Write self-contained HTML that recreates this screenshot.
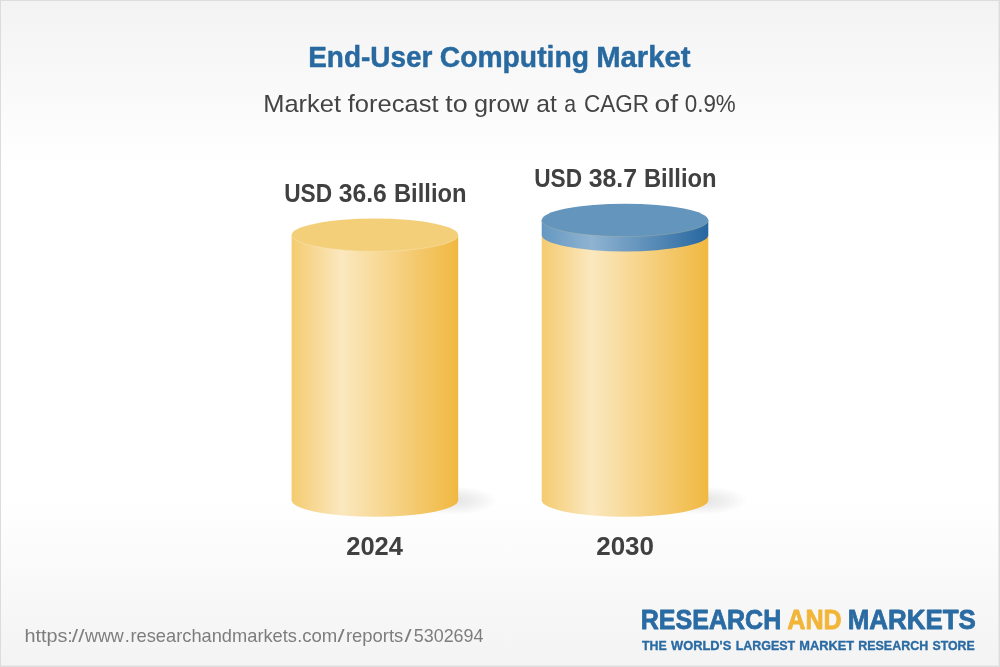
<!DOCTYPE html>
<html lang="en">
<head>
<meta charset="utf-8">
<title>End-User Computing Market</title>
<style>
html,body{margin:0;padding:0;}
body{width:1000px;height:667px;overflow:hidden;background:#fff;font-family:"Liberation Sans",sans-serif;}
#card{position:absolute;left:0;top:0;width:1000px;height:667px;box-sizing:border-box;border:1px solid #dcdcdc;
background:linear-gradient(to bottom,#f3f3f3 0%,#ffffff 25%,#ffffff 75%,#f3f3f3 100%);box-shadow:inset -1px -1px 0 #ebebeb;}
svg{position:absolute;left:0;top:0;}
text{font-family:"Liberation Sans",sans-serif;}
</style>
</head>
<body>
<div id="card"></div>
<svg width="1000" height="667" viewBox="0 0 1000 667">
<defs>
<linearGradient id="gy" x1="0" y1="0" x2="1" y2="0">
<stop offset="0" stop-color="#f4cb70"/>
<stop offset="0.3" stop-color="#fbe8bf"/>
<stop offset="1" stop-color="#f0b840"/>
</linearGradient>
<linearGradient id="gb" x1="0" y1="0" x2="1" y2="0">
<stop offset="0" stop-color="#6598c1"/>
<stop offset="0.3" stop-color="#8fb3d1"/>
<stop offset="1" stop-color="#2767a0"/>
</linearGradient>
<radialGradient id="sh" cx="0.5" cy="0.5" r="0.5">
<stop offset="0" stop-color="#000" stop-opacity="0.11"/>
<stop offset="0.5" stop-color="#000" stop-opacity="0.06"/>
<stop offset="1" stop-color="#000" stop-opacity="0"/>
</radialGradient>
</defs>

<!-- shadows -->
<ellipse cx="452" cy="500.5" rx="46" ry="14.5" fill="url(#sh)"/>
<ellipse cx="702" cy="500.5" rx="46" ry="14.5" fill="url(#sh)"/>

<!-- left cylinder -->
<path d="M291.6 235 L291.6 500.3 A83.3 16.4 0 0 0 458.2 500.3 L458.2 235 Z" fill="url(#gy)"/>
<ellipse cx="374.9" cy="235" rx="83.3" ry="16.4" fill="#f4cf7a"/>
<path d="M291.6 235 A83.3 16.4 0 0 0 458.2 235" fill="none" stroke="#fdf1d6" stroke-opacity="0.55" stroke-width="0.6"/>

<!-- right cylinder -->
<path d="M541.7 235 L541.7 500.3 A83.3 16.4 0 0 0 708.3 500.3 L708.3 235 Z" fill="url(#gy)"/>
<path d="M541.7 220 L541.7 235 A83.3 16.4 0 0 0 708.3 235 L708.3 220 Z" fill="url(#gb)"/>
<ellipse cx="625" cy="220.2" rx="83.3" ry="16.4" fill="#6495bc"/>
<path d="M541.7 220.2 A83.3 16.4 0 0 0 708.3 220.2" fill="none" stroke="#c9c39a" stroke-opacity="0.45" stroke-width="0.6"/>

<!-- text -->
<text y="66.7" font-size="30.4" font-weight="700" fill="#2869a0" stroke="#2869a0" stroke-width="0.45" stroke-linejoin="round"><tspan x="308.23" textLength="124.28" lengthAdjust="spacingAndGlyphs">End-User</tspan> <tspan x="439.73" textLength="149.29" lengthAdjust="spacingAndGlyphs">Computing</tspan> <tspan x="596.21" textLength="94.29" lengthAdjust="spacingAndGlyphs">Market</tspan></text>
<text y="111.9" font-size="24.8" fill="#444444"><tspan x="263.19" textLength="77.81" lengthAdjust="spacingAndGlyphs">Market</tspan> <tspan x="347.75" textLength="90.75" lengthAdjust="spacingAndGlyphs">forecast</tspan> <tspan x="445.22" textLength="22.37" lengthAdjust="spacingAndGlyphs">to</tspan> <tspan x="473.98" textLength="54.77" lengthAdjust="spacingAndGlyphs">grow</tspan> <tspan x="536.18" textLength="20.59" lengthAdjust="spacingAndGlyphs">at</tspan> <tspan x="564.2" textLength="11.8" lengthAdjust="spacingAndGlyphs">a</tspan> <tspan x="583.97" textLength="65.07" lengthAdjust="spacingAndGlyphs">CAGR</tspan> <tspan x="654.44" textLength="23.56" lengthAdjust="spacingAndGlyphs">of</tspan> <tspan x="684.72" textLength="51.06" lengthAdjust="spacingAndGlyphs">0.9%</tspan></text>
<text y="201.6" font-size="25.3" font-weight="700" fill="#404040"><tspan x="284.18" textLength="47.87" lengthAdjust="spacingAndGlyphs">USD</tspan> <tspan x="338.73" textLength="48.04" lengthAdjust="spacingAndGlyphs">36.6</tspan> <tspan x="393.92" textLength="72.65" lengthAdjust="spacingAndGlyphs">Billion</tspan></text>
<text y="186.6" font-size="25.3" font-weight="700" fill="#404040"><tspan x="534.18" textLength="47.87" lengthAdjust="spacingAndGlyphs">USD</tspan> <tspan x="588.73" textLength="48.31" lengthAdjust="spacingAndGlyphs">38.7</tspan> <tspan x="643.92" textLength="72.65" lengthAdjust="spacingAndGlyphs">Billion</tspan></text>
<text y="554.8" font-size="25.4" font-weight="700" fill="#404040"><tspan x="346.24" textLength="56.76" lengthAdjust="spacingAndGlyphs">2024</tspan></text>
<text y="554.8" font-size="25.4" font-weight="700" fill="#404040"><tspan x="596.23" textLength="57.81" lengthAdjust="spacingAndGlyphs">2030</tspan></text>
<text y="642.2" font-size="18.2" fill="#7d7d7d"><tspan x="24.41" textLength="48.46" lengthAdjust="spacingAndGlyphs">https:</tspan><tspan x="71.82" textLength="12.64" lengthAdjust="spacingAndGlyphs">//</tspan><tspan x="85.0" textLength="38.75" lengthAdjust="spacingAndGlyphs">www</tspan><tspan x="124.7" textLength="5.06" lengthAdjust="spacingAndGlyphs">.</tspan><tspan x="130.49" textLength="166.52" lengthAdjust="spacingAndGlyphs">researchandmarkets</tspan><tspan x="297.3" textLength="5.06" lengthAdjust="spacingAndGlyphs">.</tspan><tspan x="302.21" textLength="35.11" lengthAdjust="spacingAndGlyphs">com</tspan><tspan x="337.5" textLength="7.09" lengthAdjust="spacingAndGlyphs">/</tspan><tspan x="345.96" textLength="57.31" lengthAdjust="spacingAndGlyphs">reports</tspan><tspan x="404.55" textLength="7.09" lengthAdjust="spacingAndGlyphs">/</tspan><tspan x="413.74" textLength="69.77" lengthAdjust="spacingAndGlyphs">5302694</tspan></text>
<text y="629.4" font-size="27.0" font-weight="700" fill="#2a6ba3" stroke="#2a6ba3" stroke-width="0.8" stroke-linejoin="round"><tspan x="640.73" textLength="140.55" lengthAdjust="spacingAndGlyphs">RESEARCH</tspan> <tspan x="787.24" textLength="54.52" lengthAdjust="spacingAndGlyphs" fill="#f2b538" stroke="#f2b538">AND</tspan> <tspan x="847.73" textLength="128.03" lengthAdjust="spacingAndGlyphs">MARKETS</tspan></text>
<text y="649.9" font-size="12.8" font-weight="700" fill="#2a6ba3" stroke="#2a6ba3" stroke-width="0.35" stroke-linejoin="round"><tspan x="642.0" textLength="24.76" lengthAdjust="spacingAndGlyphs">THE</tspan> <tspan x="671.0" textLength="60.25" lengthAdjust="spacingAndGlyphs">WORLD'S</tspan> <tspan x="735.74" textLength="59.51" lengthAdjust="spacingAndGlyphs">LARGEST</tspan> <tspan x="799.24" textLength="54.76" lengthAdjust="spacingAndGlyphs">MARKET</tspan> <tspan x="858.23" textLength="70.03" lengthAdjust="spacingAndGlyphs">RESEARCH</tspan> <tspan x="932.5" textLength="42.26" lengthAdjust="spacingAndGlyphs">STORE</tspan></text>
</svg>
</body>
</html>
